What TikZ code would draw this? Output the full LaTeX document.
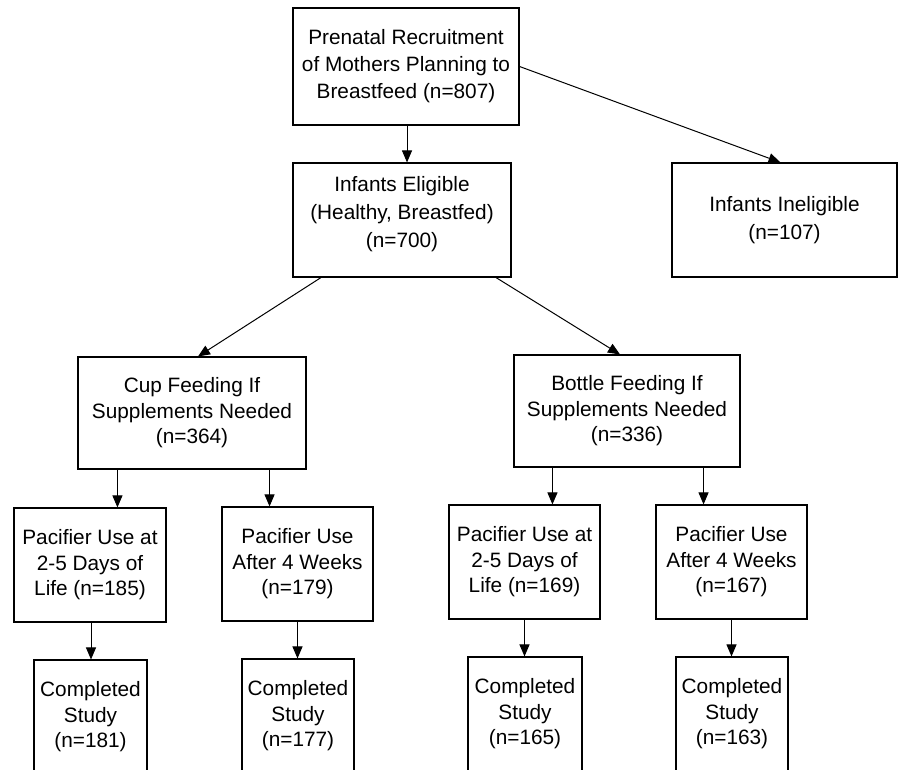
\documentclass[tikz,border=0pt]{standalone}
\usepackage{fontspec}
\setmainfont{Liberation Sans}
\usetikzlibrary{arrows.meta}
\begin{document}
\begin{tikzpicture}[x=1pt,y=-1pt,
  box/.style={draw,line width=1.1pt,inner sep=0pt,align=center,
    font=\fontsize{20.8}{25.5}\selectfont},
  arr/.style={-{Triangle[length=12pt,width=10pt]},line width=1pt}]
\useasboundingbox (0,0) rectangle (899,770);
\clip (0,0) rectangle (899,770);
\node[box,minimum width=226pt,minimum height=117pt] (top) at (406,66.5)
  {Prenatal Recruitment\\[1.5pt]of Mothers Planning to\\[1.5pt]Breastfeed (n=807)};
\node[box,minimum width=218pt,minimum height=114pt] (elig) at (402,220)
  {Infants Eligible\\[2pt](Healthy, Breastfed)\\[3pt](n=700)\\[-18pt]\strut};
\node[box,minimum width=225pt,minimum height=114pt] (inel) at (784.5,220)
  {Infants Ineligible\\[2pt](n=107)};
\node[box,minimum width=228pt,minimum height=112pt] (cup) at (192,413)
  {Cup Feeding If\\Supplements Needed\\(n=364)};
\node[box,minimum width=226pt,minimum height=112pt] (bottle) at (627,411)
  {Bottle Feeding If\\Supplements Needed\\(n=336)};
\node[box,minimum width=152pt,minimum height=114pt] (pa) at (90,565)
  {Pacifier Use at\\2-5 Days of\\Life (n=185)};
\node[box,minimum width=151pt,minimum height=114pt] (pb) at (297.5,564)
  {Pacifier Use\\After 4 Weeks\\(n=179)};
\node[box,minimum width=151pt,minimum height=114pt] (pc) at (524.5,562)
  {Pacifier Use at\\2-5 Days of\\Life (n=169)};
\node[box,minimum width=151pt,minimum height=114pt] (pd) at (731.5,562)
  {Pacifier Use\\After 4 Weeks\\(n=167)};
\node[box,minimum width=113pt,minimum height=114pt] (ca) at (90.5,717)
  {Completed\\Study\\(n=181)};
\node[box,minimum width=112pt,minimum height=114pt] (cb) at (298,716)
  {Completed\\Study\\(n=177)};
\node[box,minimum width=114pt,minimum height=114pt] (cc) at (525,714)
  {Completed\\Study\\(n=165)};
\node[box,minimum width=112pt,minimum height=114pt] (cd) at (732,714)
  {Completed\\Study\\(n=163)};
% connectors
\draw[arr] ([xshift=1pt]top.south) -- ([xshift=1pt]top.south |- elig.north);
\draw[arr] (top.east) -- ([xshift=-4pt]inel.north);
\draw[arr] ([xshift=-81pt]elig.south) -- ([xshift=6pt]cup.north);
\draw[arr] ([xshift=94pt]elig.south) -- ([xshift=-7pt]bottle.north);
\draw[arr] ([xshift=40pt]cup.south west) -- ([xshift=40pt]cup.south west |- pa.north);
\draw[arr] ([xshift=-37pt]cup.south east) -- ([xshift=-37pt]cup.south east |- pb.north);
\draw[arr] ([xshift=39pt]bottle.south west) -- ([xshift=39pt]bottle.south west |- pc.north);
\draw[arr] ([xshift=-37pt]bottle.south east) -- ([xshift=-37pt]bottle.south east |- pd.north);
\draw[arr] ([xshift=1pt]pa.south) -- ([xshift=1pt]pa.south |- ca.north);
\draw[arr] (pb.south) -- (pb.south |- cb.north);
\draw[arr] (pc.south) -- (pc.south |- cc.north);
\draw[arr] (pd.south) -- (pd.south |- cd.north);
\end{tikzpicture}
\end{document}
